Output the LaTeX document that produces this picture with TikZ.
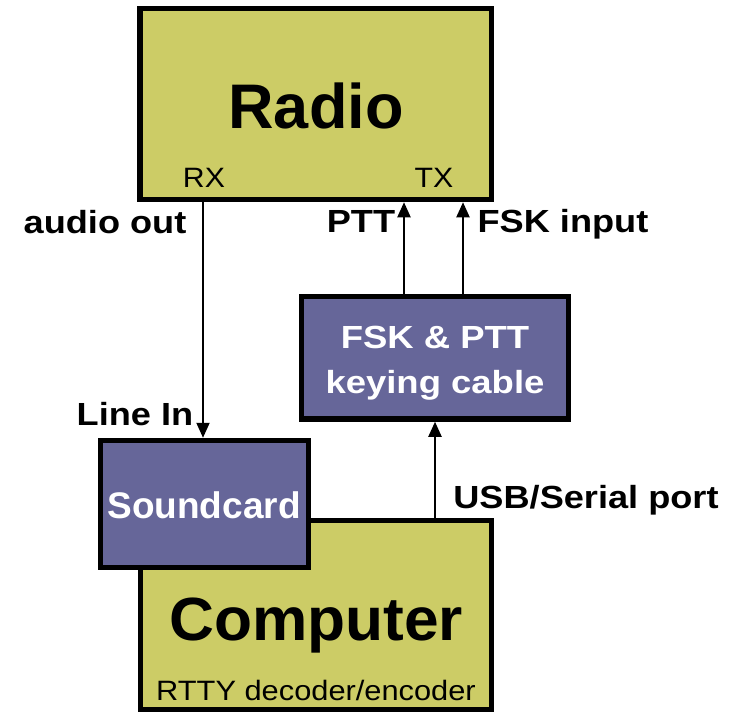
\documentclass[tikz,border=0pt]{standalone}
\usepackage{fontspec}
\usepackage{graphicx}
\setmainfont{Liberation Sans}
\usetikzlibrary{arrows.meta}
\definecolor{boxolive}{HTML}{CCCC66}
\definecolor{boxpurple}{HTML}{666699}
% text at a given size, stretched horizontally by a factor
\newcommand\setlbl[3]{{\fontsize{#1}{#1}\selectfont\scalebox{#2}[1]{#3}}}
\begin{document}
\begin{tikzpicture}[x=1pt,y=-1pt,
  box/.style={draw=black,line width=5.5pt,inner sep=0pt,rectangle},
  wire/.style={line width=2pt,-{Triangle[width=13pt,length=15pt]}},
  lab/.style={inner sep=0pt,anchor=base}]
\useasboundingbox (0,0) rectangle (742,712);

% boxes
\node[box,fill=boxolive,minimum width=351.5pt,minimum height=191pt] (radio) at (315.75,104) {};
\node[box,fill=boxolive,minimum width=351pt,minimum height=189pt] (computer) at (316,615) {};
\node[box,fill=boxpurple,minimum width=208pt,minimum height=127pt] (sc) at (204.5,504) {};
\node[box,fill=boxpurple,minimum width=267pt,minimum height=122.5pt] (fsk) at (435,357.75) {};

% box texts
\node[lab] (radiot) at (316,128) {\setlbl{63}{1}{\bfseries Radio}};
\node[lab] (rx) at (204,187) {\setlbl{28}{1.08}{RX}};
\node[lab] (tx) at (434,187) {\setlbl{28}{1.08}{TX}};
\node[lab] (computert) at (316,640) {\setlbl{61}{1.02}{\bfseries Computer}};
\node[lab] (rtty) at (316,700) {\setlbl{28}{1.1}{RTTY decoder/encoder}};
\node[lab,text=white] (sct) at (204,518) {\setlbl{37}{1}{\bfseries Soundcard}};
\node[lab,text=white] (fsk1) at (435,348) {\setlbl{32}{1.14}{\bfseries FSK \& PTT}};
\node[lab,text=white] (fsk2) at (435,393) {\setlbl{32}{1.14}{\bfseries keying cable}};

% connector positions
\coordinate (rxline) at (203,0);
\coordinate (pttline) at (404,0);
\coordinate (fskline) at (463,0);
\coordinate (usbline) at (435,0);

% connectors
\draw[wire] (radio.south -| rxline) -- (sc.north -| rxline);
\draw[wire] (fsk.north -| pttline) -- (radio.south -| pttline);
\draw[wire] (fsk.north -| fskline) -- (radio.south -| fskline);
\draw[wire] (computer.north -| usbline) -- (fsk.south -| usbline);

% connector labels
\node[lab] (audio) at (105,233) {\setlbl{32}{1.13}{\bfseries audio out}};
\node[lab] (pttl) at (361,232) {\setlbl{32}{1.13}{\bfseries PTT}};
\node[lab] (fskl) at (563,232) {\setlbl{32}{1.13}{\bfseries FSK input}};
\node[lab] (linein) at (135,425) {\setlbl{32}{1.13}{\bfseries Line In}};
\node[lab] (usb) at (586,508) {\setlbl{32}{1.13}{\bfseries USB/Serial port}};
\end{tikzpicture}
\end{document}
